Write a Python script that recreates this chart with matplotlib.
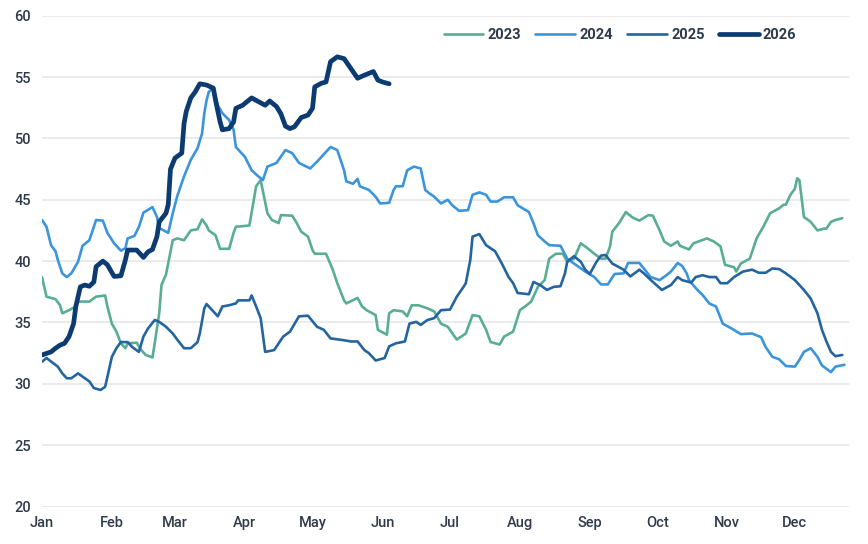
import matplotlib
matplotlib.use("Agg")
import matplotlib.pyplot as plt

# Day-of-year (0 = Jan 1) and value pairs
s2023 = [(0,38.7),(2,37.1),(6,36.9),(8,36.4),(9,35.75),(12,36.0),(15,36.3),(16,36.7),(21,36.7),(24,37.1),
         (28,37.2),(29,36.3),(31,34.9),(33,34.25),(35,33.3),(37,32.9),(38,33.3),(42,33.35),(44,32.75),(46,32.35),
         (49,32.15),(50,33.3),(52,35.75),(53,38.05),(55,38.9),(58,41.7),(60,41.85),(63,41.7),(66,42.5),(69,42.6),
         (71,43.4),(73,42.9),(74,42.5),(77,42.1),(79,41.0),(83,41.0),(85,42.3),(86,42.8),(92,42.9),(94,45.0),
         (95,46.1),(97,46.6),(100,43.9),(102,43.35),(105,43.1),(106,43.75),(111,43.7),(113,43.1),(115,42.4),(118,42.0),
         (120,40.9),(121,40.6),(126,40.6),(129,39.3),(131,38.2),(134,36.8),(135,36.55),(140,37.0),(142,36.3),(144,36.0),
         (148,35.6),(149,34.4),(153,34.0),(154,35.75),(156,36.0),(160,35.9),(162,35.5),(164,36.4),(167,36.4),(171,36.15),
         (174,35.9),(177,34.9),(180,34.65),(184,33.6),(188,34.1),(191,35.6),(194,35.5),(197,34.4),(199,33.4),(203,33.2),
         (205,33.85),(209,34.25),(212,36.0),(215,36.4),(217,36.7),(220,37.9),(223,38.45),(225,40.2),(228,40.6),(231,40.6),
         (233,39.95),(236,40.2),(239,41.45),(242,41.05),(245,40.6),(248,40.2),(250,40.2),(252,41.2),(253,42.4),(256,43.1),
         (259,44.0),(262,43.55),(265,43.3),(269,43.75),(271,43.7),(274,42.5),(276,41.6),(279,41.25),(282,41.6),(283,41.25),
         (287,40.95),(289,41.45),(295,41.85),(298,41.6),(301,41.2),(303,39.7),(307,39.5),(308,39.15),(310,39.8),(314,40.2),
         (317,41.85),(320,42.8),(323,43.9),(327,44.3),(329,44.6),(330,44.6),(332,45.4),(334,45.9),(335,46.75),(336,46.6),
         (338,43.6),(341,43.2),(344,42.5),(347,42.65),(348,42.65),(350,43.2),(352,43.35),(355,43.5)]

s2024 = [(0,43.35),(2,42.8),(4,41.3),(6,40.8),(7,40.1),(9,39.0),(11,38.7),(13,39.0),(16,39.95),(18,41.25),
         (21,41.7),(24,43.35),(27,43.3),(29,42.3),(32,41.45),(35,40.85),(37,41.05),(38,41.85),(41,42.05),(43,42.8),
         (45,43.95),(49,44.4),(51,43.6),(52,42.7),(56,42.3),(58,43.9),(60,45.3),(63,46.9),(66,48.25),(69,49.2),
         (71,50.4),(72,52.05),(73,53.1),(74,53.8),(76,54.1),(78,52.7),(80,52.05),(83,51.5),(85,50.7),(86,49.3),
         (90,48.5),(93,47.4),(96,46.9),(98,46.6),(100,47.7),(104,48.0),(108,49.05),(111,48.8),(114,48.0),(119,47.55),
         (122,48.1),(125,48.7),(128,49.3),(131,49.05),(134,47.4),(135,46.5),(138,46.3),(140,46.7),(141,46.1),(145,45.8),
         (148,45.25),(150,44.7),(154,44.75),(156,45.8),(157,46.1),(160,46.1),(162,47.4),(165,47.7),(168,47.55),(170,45.8),
         (172,45.5),(174,45.25),(177,44.7),(180,45.0),(182,44.55),(185,44.1),(189,44.15),(191,45.4),(194,45.6),(197,45.4),
         (199,44.85),(202,44.85),(205,45.2),(209,45.2),(211,44.55),(216,44.0),(218,43.1),(220,42.1),(223,41.6),(225,41.3),
         (230,41.25),(233,40.2),(236,39.8),(241,39.15),(245,38.7),(248,38.1),(251,38.1),(254,38.95),(258,39.0),(260,39.85),
         (265,39.85),(267,39.4),(270,38.7),(274,38.45),(277,38.85),(279,39.15),(282,39.85),(284,39.6),(286,39.0),(287,38.45),
         (290,37.8),(293,37.25),(296,36.55),(299,36.3),(302,34.9),(306,34.5),(310,34.05),(315,34.1),(319,33.8),(321,33.0),
         (324,32.2),(327,32.0),(330,31.45),(334,31.4),(336,31.95),(338,32.6),(341,32.9),(344,32.2),(346,31.5),(350,30.95),
         (352,31.4),(356,31.55)]

s2025 = [(0,31.8),(2,32.1),(7,31.4),(9,30.85),(11,30.45),(13,30.45),(16,30.85),(19,30.45),(21,30.2),(23,29.65),
         (26,29.5),(28,29.75),(29,30.55),(31,32.2),(33,32.9),(35,33.4),(38,33.4),(40,33.0),(43,32.6),(45,33.85),
         (47,34.5),(50,35.2),(52,35.05),(55,34.65),(58,34.1),(60,33.6),(63,32.9),(66,32.9),(69,33.4),(70,34.1),
         (72,36.15),(73,36.5),(76,35.9),(78,35.5),(80,36.3),(83,36.4),(86,36.55),(87,36.8),(92,36.8),(93,37.2),
         (95,36.3),(97,35.35),(99,32.6),(103,32.75),(107,33.85),(110,34.25),(114,35.5),(118,35.55),(122,34.65),(125,34.4),
         (128,33.7),(134,33.55),(137,33.45),(140,33.45),(143,32.75),(145,32.5),(148,31.9),(152,32.1),(154,33.05),(157,33.3),
         (161,33.45),(163,34.9),(166,35.05),(168,34.8),(171,35.2),(174,35.35),(177,36.0),(181,36.05),(184,37.1),(187,37.9),
         (188,38.2),(190,40.1),(191,42.0),(194,42.2),(197,41.3),(201,40.8),(204,39.8),(207,38.7),(209,38.2),(211,37.4),
         (216,37.3),(218,38.3),(221,38.05),(224,37.65),(227,37.9),(230,37.95),(232,39.0),(233,39.95),(236,40.4),(239,39.95),
         (241,39.3),(243,38.95),(246,39.95),(248,40.45),(250,40.5),(253,39.8),(258,39.3),(261,38.75),(265,39.3),(267,39.0),
         (271,38.3),(275,37.65),(279,38.05),(282,38.7),(284,38.45),(288,38.25),(290,38.7),(293,38.85),(296,38.7),(299,38.7),
         (301,38.2),(304,38.2),(307,38.7),(311,39.15),(315,39.3),(318,39.05),(321,39.05),(324,39.4),(327,39.35),(330,39.0),
         (334,38.45),(338,37.65),(341,36.95),(344,35.75),(346,34.4),(348,33.45),(350,32.6),(352,32.25),(355,32.35)]

s2026 = [(0,32.35),(4,32.6),(6,32.9),(8,33.15),(10,33.3),(12,33.85),(14,34.9),(15,36.3),(17,37.9),(19,38.05),
         (21,37.95),(23,38.3),(24,39.55),(27,40.0),(29,39.7),(32,38.75),(35,38.8),(37,40.1),(38,40.9),(42,40.9),
         (45,40.3),(47,40.75),(49,40.95),(51,42.0),(52,43.2),(55,43.9),(56,44.6),(57,47.5),(59,48.4),(62,48.8),
         (63,51.2),(64,52.2),(66,53.3),(68,53.8),(70,54.45),(73,54.35),(76,54.1),(77,53.1),(79,51.35),(80,50.7),
         (83,50.8),(85,51.35),(86,52.45),(89,52.7),(91,53.0),(93,53.3),(96,53.0),(99,52.7),(101,53.05),(104,52.6),
         (106,52.0),(108,51.0),(110,50.8),(112,50.95),(115,51.7),(118,51.9),(120,52.45),(121,54.2),(124,54.5),(126,54.6),
         (128,56.25),(131,56.65),(134,56.5),(137,55.7),(140,54.9),(143,55.15),(147,55.45),(149,54.75),(151,54.6),(154,54.45)]

series_labels = ["2023", "2024", "2025", "2026"]
month_labels = ["Jan", "Feb", "Mar", "Apr", "May", "Jun", "Jul", "Aug", "Sep", "Oct", "Nov", "Dec"]
month_starts = [0, 31, 59, 90, 120, 151, 181, 212, 243, 273, 304, 334]
y_ticks = [20, 25, 30, 35, 40, 45, 50, 55, 60]

colors = ["#5aad95", "#3a95dc", "#24649f", "#0b3b70"]
widths = [1.9, 1.9, 1.9, 3.4]

plt.rcParams['font.family'] = ['Roboto', 'DejaVu Sans']
text_color = "#2f3b4a"

W, H = 868, 544
fig = plt.figure(figsize=(W / 100, H / 100), dpi=100)
ax = fig.add_axes([42 / W, (H - 506.5) / H, (849 - 42) / W, (506.5 - 15.7) / H])

for data, lab, c, lw in zip([s2023, s2024, s2025, s2026], series_labels, colors, widths):
    xs = [p[0] for p in data]
    ys = [p[1] for p in data]
    ax.plot(xs, ys, color=c, lw=lw, label=lab, solid_joinstyle="round",
            solid_capstyle="round", zorder=3)

ax.set_xlim(0, 358)
ax.set_ylim(20, 60)
ax.set_yticks(y_ticks)
ax.set_xticks(month_starts)
ax.set_xticklabels(month_labels)
ax.grid(axis="y", color="#e9e9e9", lw=1.3, zorder=0)
ax.grid(axis="x", visible=False)
for s in ax.spines.values():
    s.set_visible(False)
ax.tick_params(axis="both", length=0, labelsize=10.5, colors=text_color)
ax.tick_params(axis="y", pad=8)
ax.tick_params(axis="x", pad=7)
for t in ax.get_xticklabels() + ax.get_yticklabels():
    t.set_fontweight("medium")

leg = fig.legend(loc="center", bbox_to_anchor=(620 / W, 1 - 35 / H), ncol=4, frameon=False,
                 handlelength=2.7, handletextpad=0.3, columnspacing=1.0,
                 prop={"size": 10.5, "weight": "bold"})
for t in leg.get_texts():
    t.set_color(text_color)
for l in leg.get_lines():
    l.set_solid_capstyle("round")

fig.savefig("out.png", dpi=100)
